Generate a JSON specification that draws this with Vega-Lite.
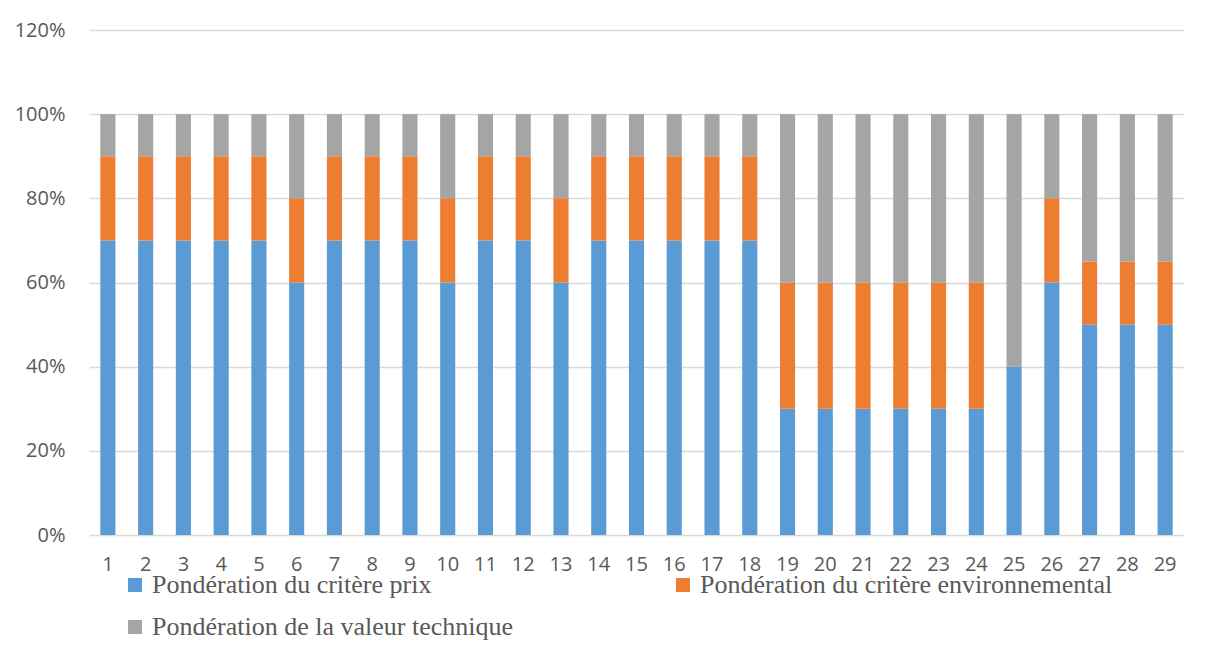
{
  "$schema": "https://vega.github.io/schema/vega-lite/v6.json",
  "width": 1095,
  "height": 505,
  "autosize": {"type": "none"},
  "padding": {"left": 89, "top": 30, "right": 21, "bottom": 117},
  "background": "white",
  "config": {
    "view": {"stroke": null},
    "axis": {"labelFont": "Open Sans", "labelColor": "#595959", "labelFontSize": 20}
  },
  "data": {
    "values": [
      {"lot": 1, "Pondération du critère prix": 0.7, "Pondération du critère environnemental": 0.2, "Pondération de la valeur technique": 0.1},
      {"lot": 2, "Pondération du critère prix": 0.7, "Pondération du critère environnemental": 0.2, "Pondération de la valeur technique": 0.1},
      {"lot": 3, "Pondération du critère prix": 0.7, "Pondération du critère environnemental": 0.2, "Pondération de la valeur technique": 0.1},
      {"lot": 4, "Pondération du critère prix": 0.7, "Pondération du critère environnemental": 0.2, "Pondération de la valeur technique": 0.1},
      {"lot": 5, "Pondération du critère prix": 0.7, "Pondération du critère environnemental": 0.2, "Pondération de la valeur technique": 0.1},
      {"lot": 6, "Pondération du critère prix": 0.6, "Pondération du critère environnemental": 0.2, "Pondération de la valeur technique": 0.2},
      {"lot": 7, "Pondération du critère prix": 0.7, "Pondération du critère environnemental": 0.2, "Pondération de la valeur technique": 0.1},
      {"lot": 8, "Pondération du critère prix": 0.7, "Pondération du critère environnemental": 0.2, "Pondération de la valeur technique": 0.1},
      {"lot": 9, "Pondération du critère prix": 0.7, "Pondération du critère environnemental": 0.2, "Pondération de la valeur technique": 0.1},
      {"lot": 10, "Pondération du critère prix": 0.6, "Pondération du critère environnemental": 0.2, "Pondération de la valeur technique": 0.2},
      {"lot": 11, "Pondération du critère prix": 0.7, "Pondération du critère environnemental": 0.2, "Pondération de la valeur technique": 0.1},
      {"lot": 12, "Pondération du critère prix": 0.7, "Pondération du critère environnemental": 0.2, "Pondération de la valeur technique": 0.1},
      {"lot": 13, "Pondération du critère prix": 0.6, "Pondération du critère environnemental": 0.2, "Pondération de la valeur technique": 0.2},
      {"lot": 14, "Pondération du critère prix": 0.7, "Pondération du critère environnemental": 0.2, "Pondération de la valeur technique": 0.1},
      {"lot": 15, "Pondération du critère prix": 0.7, "Pondération du critère environnemental": 0.2, "Pondération de la valeur technique": 0.1},
      {"lot": 16, "Pondération du critère prix": 0.7, "Pondération du critère environnemental": 0.2, "Pondération de la valeur technique": 0.1},
      {"lot": 17, "Pondération du critère prix": 0.7, "Pondération du critère environnemental": 0.2, "Pondération de la valeur technique": 0.1},
      {"lot": 18, "Pondération du critère prix": 0.7, "Pondération du critère environnemental": 0.2, "Pondération de la valeur technique": 0.1},
      {"lot": 19, "Pondération du critère prix": 0.3, "Pondération du critère environnemental": 0.3, "Pondération de la valeur technique": 0.4},
      {"lot": 20, "Pondération du critère prix": 0.3, "Pondération du critère environnemental": 0.3, "Pondération de la valeur technique": 0.4},
      {"lot": 21, "Pondération du critère prix": 0.3, "Pondération du critère environnemental": 0.3, "Pondération de la valeur technique": 0.4},
      {"lot": 22, "Pondération du critère prix": 0.3, "Pondération du critère environnemental": 0.3, "Pondération de la valeur technique": 0.4},
      {"lot": 23, "Pondération du critère prix": 0.3, "Pondération du critère environnemental": 0.3, "Pondération de la valeur technique": 0.4},
      {"lot": 24, "Pondération du critère prix": 0.3, "Pondération du critère environnemental": 0.3, "Pondération de la valeur technique": 0.4},
      {"lot": 25, "Pondération du critère prix": 0.4, "Pondération du critère environnemental": 0.0, "Pondération de la valeur technique": 0.6},
      {"lot": 26, "Pondération du critère prix": 0.6, "Pondération du critère environnemental": 0.2, "Pondération de la valeur technique": 0.2},
      {"lot": 27, "Pondération du critère prix": 0.5, "Pondération du critère environnemental": 0.15, "Pondération de la valeur technique": 0.35},
      {"lot": 28, "Pondération du critère prix": 0.5, "Pondération du critère environnemental": 0.15, "Pondération de la valeur technique": 0.35},
      {"lot": 29, "Pondération du critère prix": 0.5, "Pondération du critère environnemental": 0.15, "Pondération de la valeur technique": 0.35}
    ]
  },
  "transform": [
    {"fold": ["Pondération du critère prix", "Pondération du critère environnemental", "Pondération de la valeur technique"], "as": ["critere", "part"]}
  ],
  "mark": {"type": "bar"},
  "encoding": {
    "x": {
      "field": "lot",
      "type": "ordinal",
      "title": null,
      "scale": {"paddingInner": 0.6, "paddingOuter": 0.3},
      "axis": {"labelAngle": 0, "ticks": false, "domain": false, "labelPadding": 19}
    },
    "y": {
      "field": "part",
      "type": "quantitative",
      "stack": "zero",
      "title": null,
      "scale": {"domain": [0, 1.2], "nice": false},
      "axis": {
        "values": [0, 0.2, 0.4, 0.6, 0.8, 1.0, 1.2],
        "format": ".0%",
        "ticks": false,
        "domain": false,
        "labelPadding": 24,
        "gridColor": "#d9d9d9",
        "gridWidth": 1.5
      }
    },
    "order": {"field": "critere", "sort": "descending"},
    "color": {
      "field": "critere",
      "type": "nominal",
      "scale": {
        "domain": ["Pondération du critère prix", "Pondération du critère environnemental", "Pondération de la valeur technique"],
        "range": ["#5b9bd5", "#ed7d31", "#a5a5a5"]
      },
      "legend": {
        "title": null,
        "orient": "none",
        "legendX": 33,
        "legendY": 542,
        "direction": "horizontal",
        "columns": 2,
        "columnPadding": 157,
        "rowPadding": 16,
        "symbolType": "square",
        "symbolSize": 196,
        "symbolStrokeWidth": 0,
        "labelFont": "Liberation Serif",
        "labelFontSize": 26,
        "labelColor": "#595959",
        "labelOffset": 4,
        "labelLimit": 600
      }
    }
  }
}
